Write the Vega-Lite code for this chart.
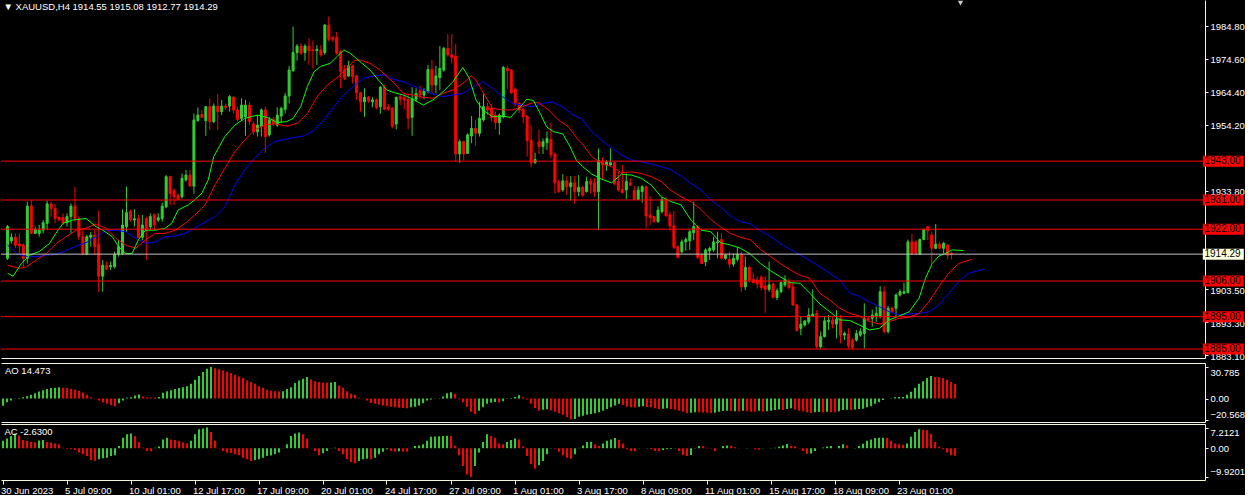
{
"$schema": "https://vega.github.io/schema/vega-lite/v6.json",
"background": "#000000",
"padding": 0,
"spacing": 2,
"config": {"view": {"stroke": null}, "font": "Liberation Sans", "axis": {"grid": false, "labelOverlap": false, "domainColor": "#F5F5DC", "tickColor": "#F5F5DC", "labelColor": "#FFFFFF", "labelFont": "Liberation Sans", "labelFontSize": 9.5}},
"datasets": {
"candles": [
{"i":0,"o":1913.0,"h":1923.3,"l":1912.5,"c":1922.8},{"i":1,"o":1918.4,"h":1920.7,"l":1917.6,"c":1919.5},{"i":2,"o":1919.5,"h":1920.7,"l":1916.1,"c":1917.1},{"i":3,"o":1917.4,"h":1920.7,"l":1914.5,"c":1916.9},{"i":4,"o":1917.1,"h":1917.6,"l":1910.4,"c":1913.0},{"i":5,"o":1913.0,"h":1930.5,"l":1911.4,"c":1929.1},{"i":6,"o":1929.1,"h":1931.0,"l":1920.5,"c":1920.7},{"i":7,"o":1920.7,"h":1922.8,"l":1920.5,"c":1921.9},{"i":8,"o":1920.7,"h":1923.3,"l":1919.7,"c":1921.7},{"i":9,"o":1921.7,"h":1924.8,"l":1920.7,"c":1924.0},
{"i":10,"o":1923.8,"h":1930.8,"l":1921.7,"c":1929.8},{"i":11,"o":1929.8,"h":1930.5,"l":1925.9,"c":1928.4},{"i":12,"o":1928.4,"h":1929.8,"l":1923.8,"c":1925.3},{"i":13,"o":1925.6,"h":1925.9,"l":1924.6,"c":1924.8},{"i":14,"o":1925.6,"h":1926.9,"l":1923.3,"c":1924.0},{"i":15,"o":1924.0,"h":1926.9,"l":1922.8,"c":1925.9},{"i":16,"o":1925.9,"h":1929.9,"l":1920.7,"c":1929.1},{"i":17,"o":1929.1,"h":1935.1,"l":1924.3,"c":1925.3},{"i":18,"o":1925.3,"h":1925.9,"l":1918.6,"c":1919.7},{"i":19,"o":1919.7,"h":1921.7,"l":1914.0,"c":1914.3},
{"i":20,"o":1914.3,"h":1920.2,"l":1914.0,"c":1919.7},{"i":21,"o":1919.5,"h":1921.2,"l":1916.6,"c":1920.2},{"i":22,"o":1920.2,"h":1921.7,"l":1914.0,"c":1916.6},{"i":23,"o":1917.4,"h":1927.7,"l":1902.7,"c":1907.5},{"i":24,"o":1907.5,"h":1912.5,"l":1902.7,"c":1910.9},{"i":25,"o":1910.9,"h":1912.0,"l":1909.4,"c":1909.6},{"i":26,"o":1910.4,"h":1912.0,"l":1909.4,"c":1910.8},{"i":27,"o":1910.4,"h":1915.0,"l":1909.9,"c":1914.3},{"i":28,"o":1914.3,"h":1918.6,"l":1913.5,"c":1916.6},{"i":29,"o":1914.5,"h":1928.1,"l":1914.0,"c":1923.3},
{"i":30,"o":1922.8,"h":1935.1,"l":1921.2,"c":1927.1},{"i":31,"o":1927.4,"h":1928.1,"l":1924.3,"c":1925.0},{"i":32,"o":1924.8,"h":1928.1,"l":1922.8,"c":1925.2},{"i":33,"o":1925.3,"h":1926.4,"l":1919.2,"c":1919.5},{"i":34,"o":1919.5,"h":1926.4,"l":1918.6,"c":1923.3},{"i":35,"o":1925.3,"h":1925.9,"l":1912.5,"c":1921.7},{"i":36,"o":1922.8,"h":1926.9,"l":1921.7,"c":1925.9},{"i":37,"o":1926.4,"h":1926.9,"l":1921.7,"c":1923.3},{"i":38,"o":1924.8,"h":1926.9,"l":1924.3,"c":1925.5},{"i":39,"o":1925.3,"h":1930.2,"l":1924.3,"c":1929.1},
{"i":40,"o":1928.9,"h":1938.7,"l":1928.4,"c":1938.2},{"i":41,"o":1938.2,"h":1938.4,"l":1929.4,"c":1933.0},{"i":42,"o":1933.9,"h":1934.6,"l":1929.4,"c":1932.0},{"i":43,"o":1932.5,"h":1933.0,"l":1931.0,"c":1931.2},{"i":44,"o":1932.0,"h":1939.2,"l":1931.5,"c":1937.7},{"i":45,"o":1937.2,"h":1940.3,"l":1936.7,"c":1938.7},{"i":46,"o":1938.7,"h":1940.3,"l":1935.1,"c":1935.3},{"i":47,"o":1935.3,"h":1957.7,"l":1933.0,"c":1955.7},{"i":48,"o":1955.5,"h":1959.6,"l":1955.2,"c":1957.2},{"i":49,"o":1957.4,"h":1958.7,"l":1956.2,"c":1956.5},
{"i":50,"o":1955.5,"h":1960.0,"l":1950.8,"c":1959.8},{"i":51,"o":1959.8,"h":1962.4,"l":1952.6,"c":1955.2},{"i":52,"o":1955.2,"h":1960.8,"l":1954.7,"c":1960.0},{"i":53,"o":1960.0,"h":1963.7,"l":1952.6,"c":1958.3},{"i":54,"o":1958.3,"h":1961.9,"l":1957.2,"c":1960.0},{"i":55,"o":1960.0,"h":1960.8,"l":1958.8,"c":1959.6},{"i":56,"o":1960.0,"h":1963.4,"l":1958.3,"c":1962.9},{"i":57,"o":1962.7,"h":1963.1,"l":1957.7,"c":1958.8},{"i":58,"o":1958.8,"h":1959.8,"l":1955.2,"c":1955.9},{"i":59,"o":1956.2,"h":1962.4,"l":1955.7,"c":1960.3},
{"i":60,"o":1956.7,"h":1961.9,"l":1950.8,"c":1960.3},{"i":61,"o":1960.3,"h":1961.3,"l":1954.1,"c":1955.2},{"i":62,"o":1954.5,"h":1955.2,"l":1951.1,"c":1952.1},{"i":63,"o":1952.1,"h":1957.2,"l":1950.6,"c":1954.1},{"i":64,"o":1953.8,"h":1959.3,"l":1950.6,"c":1958.8},{"i":65,"o":1958.8,"h":1959.8,"l":1945.6,"c":1950.6},{"i":66,"o":1951.1,"h":1956.7,"l":1950.6,"c":1955.7},{"i":67,"o":1955.9,"h":1956.7,"l":1953.8,"c":1954.5},{"i":68,"o":1954.1,"h":1959.6,"l":1953.6,"c":1957.2},{"i":69,"o":1956.9,"h":1959.8,"l":1954.9,"c":1959.3},
{"i":70,"o":1959.0,"h":1964.1,"l":1957.7,"c":1963.1},{"i":71,"o":1963.1,"h":1972.4,"l":1960.8,"c":1971.1},{"i":72,"o":1970.9,"h":1984.5,"l":1970.6,"c":1976.5},{"i":73,"o":1976.5,"h":1979.1,"l":1974.0,"c":1978.5},{"i":74,"o":1978.5,"h":1979.4,"l":1975.8,"c":1976.3},{"i":75,"o":1976.5,"h":1979.1,"l":1974.0,"c":1978.5},{"i":76,"o":1978.5,"h":1980.9,"l":1972.7,"c":1977.1},{"i":77,"o":1977.3,"h":1980.2,"l":1971.6,"c":1977.1},{"i":78,"o":1977.1,"h":1978.8,"l":1972.7,"c":1977.5},{"i":79,"o":1977.3,"h":1978.8,"l":1975.2,"c":1975.8},
{"i":80,"o":1976.5,"h":1985.3,"l":1975.8,"c":1985.0},{"i":81,"o":1985.0,"h":1987.6,"l":1979.9,"c":1980.6},{"i":82,"o":1981.2,"h":1981.4,"l":1979.9,"c":1980.6},{"i":83,"o":1981.2,"h":1982.9,"l":1975.8,"c":1976.3},{"i":84,"o":1976.8,"h":1977.3,"l":1965.5,"c":1970.6},{"i":85,"o":1971.3,"h":1972.7,"l":1968.0,"c":1968.5},{"i":86,"o":1969.3,"h":1974.0,"l":1968.9,"c":1972.4},{"i":87,"o":1972.4,"h":1972.7,"l":1967.0,"c":1969.1},{"i":88,"o":1969.3,"h":1969.6,"l":1961.9,"c":1964.1},{"i":89,"o":1964.1,"h":1964.4,"l":1958.3,"c":1961.3},
{"i":90,"o":1961.3,"h":1965.5,"l":1956.7,"c":1962.7},{"i":91,"o":1962.7,"h":1963.1,"l":1961.0,"c":1961.6},{"i":92,"o":1961.3,"h":1962.7,"l":1959.6,"c":1961.9},{"i":93,"o":1961.9,"h":1962.4,"l":1959.0,"c":1959.6},{"i":94,"o":1959.8,"h":1966.2,"l":1957.6,"c":1965.8},{"i":95,"o":1965.8,"h":1966.5,"l":1958.8,"c":1959.0},{"i":96,"o":1959.8,"h":1960.6,"l":1958.6,"c":1959.0},{"i":97,"o":1959.3,"h":1959.8,"l":1953.1,"c":1953.8},{"i":98,"o":1954.5,"h":1962.9,"l":1952.8,"c":1962.7},{"i":99,"o":1962.9,"h":1963.7,"l":1960.3,"c":1962.1},
{"i":100,"o":1962.7,"h":1963.9,"l":1959.0,"c":1961.9},{"i":101,"o":1962.1,"h":1963.7,"l":1952.8,"c":1956.2},{"i":102,"o":1956.5,"h":1965.8,"l":1950.8,"c":1962.1},{"i":103,"o":1962.1,"h":1965.5,"l":1961.3,"c":1963.9},{"i":104,"o":1964.7,"h":1966.2,"l":1962.1,"c":1963.4},{"i":105,"o":1963.4,"h":1965.5,"l":1962.1,"c":1964.7},{"i":106,"o":1964.4,"h":1972.7,"l":1963.9,"c":1971.3},{"i":107,"o":1971.3,"h":1974.2,"l":1963.9,"c":1966.5},{"i":108,"o":1966.5,"h":1972.4,"l":1963.9,"c":1969.3},{"i":109,"o":1968.8,"h":1978.5,"l":1964.9,"c":1971.6},
{"i":110,"o":1971.1,"h":1978.3,"l":1970.6,"c":1977.8},{"i":111,"o":1977.8,"h":1982.2,"l":1975.2,"c":1975.8},{"i":112,"o":1975.8,"h":1982.2,"l":1973.2,"c":1975.0},{"i":113,"o":1975.4,"h":1979.1,"l":1942.8,"c":1945.2},{"i":114,"o":1945.2,"h":1949.7,"l":1942.5,"c":1949.0},{"i":115,"o":1949.0,"h":1949.3,"l":1943.3,"c":1945.2},{"i":116,"o":1945.4,"h":1951.6,"l":1945.2,"c":1951.1},{"i":117,"o":1950.8,"h":1956.9,"l":1948.5,"c":1953.1},{"i":118,"o":1953.1,"h":1955.7,"l":1947.7,"c":1951.6},{"i":119,"o":1951.6,"h":1961.3,"l":1950.6,"c":1956.2},
{"i":120,"o":1955.7,"h":1963.7,"l":1955.2,"c":1959.8},{"i":121,"o":1959.8,"h":1961.0,"l":1957.2,"c":1958.8},{"i":122,"o":1959.3,"h":1960.6,"l":1955.2,"c":1956.5},{"i":123,"o":1957.2,"h":1958.3,"l":1952.8,"c":1954.9},{"i":124,"o":1954.9,"h":1957.7,"l":1951.1,"c":1957.2},{"i":125,"o":1956.7,"h":1972.4,"l":1956.2,"c":1971.9},{"i":126,"o":1971.6,"h":1972.4,"l":1965.2,"c":1970.9},{"i":127,"o":1971.1,"h":1971.3,"l":1963.7,"c":1964.1},{"i":128,"o":1965.2,"h":1965.8,"l":1960.0,"c":1960.6},{"i":129,"o":1960.8,"h":1961.3,"l":1957.9,"c":1958.8},
{"i":130,"o":1959.0,"h":1959.3,"l":1954.7,"c":1956.7},{"i":131,"o":1956.9,"h":1957.2,"l":1944.4,"c":1949.3},{"i":132,"o":1949.5,"h":1954.1,"l":1941.1,"c":1942.5},{"i":133,"o":1942.5,"h":1945.6,"l":1942.3,"c":1943.5},{"i":134,"o":1949.0,"h":1952.8,"l":1945.2,"c":1947.5},{"i":135,"o":1947.5,"h":1950.0,"l":1945.2,"c":1949.0},{"i":136,"o":1948.7,"h":1952.1,"l":1946.4,"c":1950.0},{"i":137,"o":1949.7,"h":1954.9,"l":1943.8,"c":1944.9},{"i":138,"o":1945.2,"h":1945.6,"l":1933.0,"c":1936.3},{"i":139,"o":1936.6,"h":1937.2,"l":1933.2,"c":1933.6},
{"i":140,"o":1934.1,"h":1939.0,"l":1933.6,"c":1936.9},{"i":141,"o":1936.9,"h":1938.4,"l":1932.5,"c":1935.1},{"i":142,"o":1935.1,"h":1938.4,"l":1930.8,"c":1936.3},{"i":143,"o":1936.3,"h":1938.4,"l":1929.8,"c":1933.6},{"i":144,"o":1933.6,"h":1938.7,"l":1932.2,"c":1934.9},{"i":145,"o":1934.9,"h":1935.3,"l":1932.0,"c":1932.5},{"i":146,"o":1933.6,"h":1938.2,"l":1933.3,"c":1936.7},{"i":147,"o":1936.7,"h":1937.7,"l":1933.0,"c":1935.9},{"i":148,"o":1936.3,"h":1937.7,"l":1932.0,"c":1933.6},{"i":149,"o":1933.6,"h":1946.9,"l":1921.7,"c":1943.3},
{"i":150,"o":1943.1,"h":1944.2,"l":1937.2,"c":1941.8},{"i":151,"o":1941.8,"h":1943.3,"l":1940.0,"c":1942.8},{"i":152,"o":1941.8,"h":1946.9,"l":1941.3,"c":1942.5},{"i":153,"o":1942.5,"h":1942.8,"l":1935.6,"c":1936.1},{"i":154,"o":1936.7,"h":1939.7,"l":1933.6,"c":1934.1},{"i":155,"o":1934.3,"h":1941.8,"l":1933.0,"c":1933.3},{"i":156,"o":1934.1,"h":1939.2,"l":1931.2,"c":1936.7},{"i":157,"o":1936.3,"h":1937.7,"l":1935.3,"c":1935.6},{"i":158,"o":1933.9,"h":1935.3,"l":1931.0,"c":1931.2},{"i":159,"o":1931.2,"h":1935.3,"l":1931.0,"c":1934.1},
{"i":160,"o":1933.6,"h":1935.6,"l":1930.2,"c":1935.1},{"i":161,"o":1935.1,"h":1935.3,"l":1922.5,"c":1926.1},{"i":162,"o":1926.4,"h":1932.2,"l":1923.3,"c":1925.6},{"i":163,"o":1925.9,"h":1926.1,"l":1924.0,"c":1924.3},{"i":164,"o":1924.3,"h":1929.1,"l":1924.0,"c":1927.9},{"i":165,"o":1927.4,"h":1932.0,"l":1926.9,"c":1931.2},{"i":166,"o":1931.2,"h":1932.0,"l":1925.9,"c":1926.1},{"i":167,"o":1926.4,"h":1927.4,"l":1921.5,"c":1923.0},{"i":168,"o":1923.0,"h":1927.7,"l":1915.8,"c":1916.4},{"i":169,"o":1916.6,"h":1917.1,"l":1913.0,"c":1913.3},
{"i":170,"o":1915.0,"h":1918.8,"l":1914.5,"c":1918.1},{"i":171,"o":1918.1,"h":1919.5,"l":1915.3,"c":1918.8},{"i":172,"o":1918.4,"h":1921.9,"l":1915.6,"c":1921.2},{"i":173,"o":1920.9,"h":1930.5,"l":1918.6,"c":1922.8},{"i":174,"o":1922.8,"h":1923.3,"l":1912.7,"c":1913.3},{"i":175,"o":1914.0,"h":1914.5,"l":1911.2,"c":1911.4},{"i":176,"o":1911.9,"h":1916.1,"l":1910.6,"c":1915.6},{"i":177,"o":1915.3,"h":1916.6,"l":1912.5,"c":1916.1},{"i":178,"o":1915.6,"h":1919.7,"l":1915.0,"c":1918.1},{"i":179,"o":1917.8,"h":1921.2,"l":1913.0,"c":1918.1},
{"i":180,"o":1918.8,"h":1920.7,"l":1912.7,"c":1913.0},{"i":181,"o":1913.0,"h":1914.5,"l":1912.5,"c":1914.0},{"i":182,"o":1912.7,"h":1915.0,"l":1909.9,"c":1911.2},{"i":183,"o":1911.2,"h":1914.5,"l":1910.4,"c":1913.0},{"i":184,"o":1912.7,"h":1916.6,"l":1912.0,"c":1914.3},{"i":185,"o":1914.3,"h":1915.0,"l":1902.7,"c":1904.2},{"i":186,"o":1904.2,"h":1913.5,"l":1903.2,"c":1910.2},{"i":187,"o":1910.2,"h":1910.6,"l":1905.5,"c":1906.3},{"i":188,"o":1906.5,"h":1908.6,"l":1905.3,"c":1905.5},{"i":189,"o":1906.3,"h":1907.5,"l":1903.7,"c":1905.1},
{"i":190,"o":1907.2,"h":1907.8,"l":1903.0,"c":1904.0},{"i":191,"o":1904.5,"h":1907.5,"l":1896.2,"c":1903.4},{"i":192,"o":1903.4,"h":1912.0,"l":1902.7,"c":1904.8},{"i":193,"o":1905.1,"h":1905.5,"l":1900.6,"c":1900.9},{"i":194,"o":1900.9,"h":1903.7,"l":1900.1,"c":1903.0},{"i":195,"o":1902.7,"h":1905.8,"l":1902.2,"c":1905.5},{"i":196,"o":1904.8,"h":1907.8,"l":1904.2,"c":1906.5},{"i":197,"o":1905.8,"h":1906.8,"l":1903.4,"c":1904.0},{"i":198,"o":1904.2,"h":1905.5,"l":1898.3,"c":1898.6},{"i":199,"o":1898.6,"h":1898.9,"l":1890.4,"c":1890.7},
{"i":200,"o":1891.4,"h":1895.2,"l":1889.3,"c":1892.7},{"i":201,"o":1892.4,"h":1893.9,"l":1891.9,"c":1893.7},{"i":202,"o":1893.4,"h":1897.6,"l":1892.7,"c":1895.5},{"i":203,"o":1895.2,"h":1903.4,"l":1895.0,"c":1895.8},{"i":204,"o":1896.0,"h":1897.0,"l":1885.2,"c":1885.7},{"i":205,"o":1885.7,"h":1890.4,"l":1885.2,"c":1888.8},{"i":206,"o":1888.8,"h":1895.2,"l":1888.6,"c":1893.7},{"i":207,"o":1893.4,"h":1895.5,"l":1890.9,"c":1893.9},{"i":208,"o":1893.9,"h":1894.8,"l":1891.4,"c":1892.7},{"i":209,"o":1892.7,"h":1897.0,"l":1888.3,"c":1894.2},
{"i":210,"o":1894.5,"h":1895.5,"l":1886.8,"c":1889.3},{"i":211,"o":1889.3,"h":1890.4,"l":1887.8,"c":1889.8},{"i":212,"o":1889.6,"h":1891.4,"l":1885.2,"c":1886.0},{"i":213,"o":1887.8,"h":1888.3,"l":1884.9,"c":1885.5},{"i":214,"o":1887.8,"h":1890.9,"l":1887.3,"c":1889.8},{"i":215,"o":1889.3,"h":1891.4,"l":1888.8,"c":1890.4},{"i":216,"o":1889.8,"h":1899.1,"l":1885.2,"c":1894.5},{"i":217,"o":1894.5,"h":1895.0,"l":1893.4,"c":1894.0},{"i":218,"o":1894.5,"h":1897.2,"l":1891.9,"c":1895.5},{"i":219,"o":1895.0,"h":1898.1,"l":1893.4,"c":1896.0},
{"i":220,"o":1895.0,"h":1904.4,"l":1894.5,"c":1902.7},{"i":221,"o":1902.7,"h":1904.4,"l":1889.8,"c":1890.4},{"i":222,"o":1890.4,"h":1898.3,"l":1889.8,"c":1897.6},{"i":223,"o":1897.6,"h":1898.1,"l":1896.0,"c":1896.5},{"i":224,"o":1897.6,"h":1902.2,"l":1895.2,"c":1901.7},{"i":225,"o":1901.7,"h":1903.4,"l":1901.2,"c":1902.7},{"i":226,"o":1902.2,"h":1905.5,"l":1902.0,"c":1902.7},{"i":227,"o":1902.4,"h":1918.8,"l":1902.2,"c":1918.1},{"i":228,"o":1918.1,"h":1920.5,"l":1914.0,"c":1914.5},{"i":229,"o":1918.1,"h":1918.6,"l":1914.3,"c":1914.5},
{"i":230,"o":1914.3,"h":1919.1,"l":1914.0,"c":1918.8},{"i":231,"o":1918.8,"h":1922.2,"l":1918.6,"c":1921.9},{"i":232,"o":1922.8,"h":1923.0,"l":1918.6,"c":1921.5},{"i":233,"o":1920.2,"h":1921.2,"l":1911.4,"c":1916.1},{"i":234,"o":1916.1,"h":1923.6,"l":1915.8,"c":1917.4},{"i":235,"o":1917.4,"h":1918.1,"l":1915.8,"c":1916.1},{"i":236,"o":1916.1,"h":1918.1,"l":1914.5,"c":1917.6},{"i":237,"o":1917.1,"h":1917.4,"l":1912.7,"c":1914.0},{"i":238,"o":1914.55,"h":1915.08,"l":1912.77,"c":1914.29}
],
"lips": [
{"i":0,"v":1908.4},{"i":1.4,"v":1907.5},{"i":3.5,"v":1911.4},{"i":5.6,"v":1914.0},{"i":8,"v":1915.1},{"i":10.6,"v":1917.6},{"i":12.2,"v":1920.7},{"i":14,"v":1923.8},{"i":16.4,"v":1924.8},{"i":19.8,"v":1925.3},{"i":22.3,"v":1922.8},{"i":24,"v":1921.7},{"i":26.4,"v":1919.7},{"i":28,"v":1916.6},{"i":29.8,"v":1914.5},{"i":31.4,"v":1914.5},{"i":33,"v":1918.7},{"i":34.8,"v":1921.7},{"i":37.3,"v":1921.7},{"i":39.8,"v":1922.3},{"i":41.4,"v":1923.8},{"i":43,"v":1927.9},{"i":45.6,"v":1929.5},{"i":47.3,"v":1931.2},{"i":49,"v":1933.1},{"i":50.6,"v":1937.2},{"i":52,"v":1944.4},{"i":54.8,"v":1950.6},{"i":57.3,"v":1954.1},{"i":59.8,"v":1956.2},{"i":63,"v":1957.2},{"i":65.5,"v":1956.5},{"i":68,"v":1954.9},{"i":70.4,"v":1955.2},{"i":72,"v":1956.2},{"i":73.9,"v":1959.8},{"i":75.6,"v":1966.0},{"i":77.3,"v":1970.6},{"i":78.9,"v":1972.2},{"i":81.4,"v":1973.2},{"i":83,"v":1975.2},{"i":84.8,"v":1977.3},{"i":86.4,"v":1976.3},{"i":88.9,"v":1973.7},{"i":91.4,"v":1971.1},{"i":93.9,"v":1967.5},{"i":95.6,"v":1965.0},{"i":97.3,"v":1964.2},{"i":99.8,"v":1963.4},{"i":102.3,"v":1962.1},{"i":104.8,"v":1960.3},{"i":107.3,"v":1961.9},{"i":109.8,"v":1964.4},{"i":112.3,"v":1967.5},{"i":114.8,"v":1971.9},{"i":116.4,"v":1968.6},{"i":118.1,"v":1961.9},{"i":119.8,"v":1958.8},{"i":122.3,"v":1956.7},{"i":124.8,"v":1956.9},{"i":126.8,"v":1956.5},{"i":129.3,"v":1959.8},{"i":130.9,"v":1962.1},{"i":132.6,"v":1961.7},{"i":134.3,"v":1957.7},{"i":135.9,"v":1953.6},{"i":137.6,"v":1952.1},{"i":140,"v":1951.4},{"i":141.8,"v":1947.5},{"i":143.4,"v":1943.3},{"i":145,"v":1941.3},{"i":147.3,"v":1939.0},{"i":149.8,"v":1937.4},{"i":152.3,"v":1936.3},{"i":154.8,"v":1939.0},{"i":157.3,"v":1938.7},{"i":159.8,"v":1937.7},{"i":162.3,"v":1935.6},{"i":164.8,"v":1932.0},{"i":167.3,"v":1930.5},{"i":169.8,"v":1929.5},{"i":172.3,"v":1924.8},{"i":174.8,"v":1921.7},{"i":177.3,"v":1921.2},{"i":179.8,"v":1917.8},{"i":182.3,"v":1917.1},{"i":184.8,"v":1916.1},{"i":187.3,"v":1914.3},{"i":189.8,"v":1911.4},{"i":192.3,"v":1909.2},{"i":194.8,"v":1907.3},{"i":197.3,"v":1905.5},{"i":199.8,"v":1905.3},{"i":202.3,"v":1902.2},{"i":204.8,"v":1898.9},{"i":207.3,"v":1896.5},{"i":209.8,"v":1894.0},{"i":212.3,"v":1893.8},{"i":214.8,"v":1892.4},{"i":217.3,"v":1890.9},{"i":219.8,"v":1891.4},{"i":222.3,"v":1894.0},{"i":224.8,"v":1895.2},{"i":227.3,"v":1896.5},{"i":229.8,"v":1900.7},{"i":231.4,"v":1906.8},{"i":233.1,"v":1911.4},{"i":234.8,"v":1913.7},{"i":236.4,"v":1914.5},{"i":238.1,"v":1915.6},{"i":241,"v":1915.4}
],
"teeth": [
{"i":0,"v":1910.9},{"i":1.4,"v":1910.4},{"i":3,"v":1909.9},{"i":4.8,"v":1910.4},{"i":7.3,"v":1912.5},{"i":9.8,"v":1914.5},{"i":12.3,"v":1917.6},{"i":14.8,"v":1919.7},{"i":17.3,"v":1921.7},{"i":19.8,"v":1922.3},{"i":22.3,"v":1923.6},{"i":24.8,"v":1922.3},{"i":27.3,"v":1919.2},{"i":29.8,"v":1917.1},{"i":32.3,"v":1916.1},{"i":34.8,"v":1918.7},{"i":37.3,"v":1920.7},{"i":39.8,"v":1920.7},{"i":42.3,"v":1921.7},{"i":44.8,"v":1923.8},{"i":47.3,"v":1926.4},{"i":49.8,"v":1929.5},{"i":52.3,"v":1935.6},{"i":54.8,"v":1940.8},{"i":57.3,"v":1945.9},{"i":59.8,"v":1949.5},{"i":62.3,"v":1952.6},{"i":64.8,"v":1954.1},{"i":67.3,"v":1954.5},{"i":70.6,"v":1953.8},{"i":73.1,"v":1954.7},{"i":75.6,"v":1957.7},{"i":78.1,"v":1962.9},{"i":80.6,"v":1966.5},{"i":83.1,"v":1968.8},{"i":85.6,"v":1971.6},{"i":87.3,"v":1974.0},{"i":88.9,"v":1974.2},{"i":91.4,"v":1973.2},{"i":93.9,"v":1971.1},{"i":97.3,"v":1967.3},{"i":99.8,"v":1963.9},{"i":102.3,"v":1963.4},{"i":104.8,"v":1962.7},{"i":107.3,"v":1962.4},{"i":109.8,"v":1963.9},{"i":112.3,"v":1965.0},{"i":114.8,"v":1967.0},{"i":116.9,"v":1969.3},{"i":118.1,"v":1968.0},{"i":119.8,"v":1964.4},{"i":122.3,"v":1959.3},{"i":124.8,"v":1958.8},{"i":127.3,"v":1958.8},{"i":129.8,"v":1959.8},{"i":132.3,"v":1961.0},{"i":133.9,"v":1961.0},{"i":136.4,"v":1958.8},{"i":138.9,"v":1955.7},{"i":141.4,"v":1953.6},{"i":143.9,"v":1949.5},{"i":144.8,"v":1948.5},{"i":147.3,"v":1944.4},{"i":149.8,"v":1942.3},{"i":152.3,"v":1941.3},{"i":154.8,"v":1939.4},{"i":157.3,"v":1939.7},{"i":159.8,"v":1939.2},{"i":162.3,"v":1938.2},{"i":164.8,"v":1936.7},{"i":167.3,"v":1933.9},{"i":169.8,"v":1932.0},{"i":172.3,"v":1930.5},{"i":174.8,"v":1928.1},{"i":177.3,"v":1925.0},{"i":179.8,"v":1922.6},{"i":182.3,"v":1920.7},{"i":184.8,"v":1919.5},{"i":187.3,"v":1918.7},{"i":189.8,"v":1915.8},{"i":192.3,"v":1913.6},{"i":194.8,"v":1911.4},{"i":197.3,"v":1909.4},{"i":199.8,"v":1907.8},{"i":202.3,"v":1906.8},{"i":204.8,"v":1902.2},{"i":207.3,"v":1900.1},{"i":209.8,"v":1897.6},{"i":212.3,"v":1896.0},{"i":214.8,"v":1895.2},{"i":217.3,"v":1893.5},{"i":219.8,"v":1892.7},{"i":222.3,"v":1893.5},{"i":224.8,"v":1894.5},{"i":227.3,"v":1894.8},{"i":229.8,"v":1896.0},{"i":232.3,"v":1899.6},{"i":234.8,"v":1904.3},{"i":237.3,"v":1908.4},{"i":239.8,"v":1911.4},{"i":243,"v":1912.7}
],
"jaw": [
{"i":0,"v":1917.1},{"i":2.3,"v":1914.5},{"i":4.8,"v":1913.5},{"i":7.3,"v":1913.5},{"i":9.8,"v":1914.0},{"i":12.3,"v":1914.3},{"i":14.8,"v":1915.4},{"i":17.3,"v":1916.8},{"i":19.8,"v":1917.8},{"i":22.3,"v":1919.7},{"i":24.8,"v":1921.5},{"i":27.3,"v":1921.7},{"i":29.8,"v":1921.2},{"i":32.3,"v":1919.2},{"i":34.8,"v":1917.6},{"i":37.3,"v":1918.1},{"i":39.8,"v":1919.7},{"i":42.3,"v":1919.9},{"i":44.8,"v":1920.7},{"i":47.3,"v":1922.4},{"i":49.8,"v":1924.2},{"i":52.3,"v":1925.9},{"i":54.8,"v":1928.9},{"i":57.3,"v":1935.6},{"i":59.8,"v":1940.3},{"i":62.3,"v":1943.9},{"i":64.8,"v":1946.9},{"i":67.3,"v":1949.0},{"i":69.8,"v":1949.7},{"i":72.3,"v":1950.3},{"i":74.8,"v":1950.8},{"i":77.3,"v":1952.6},{"i":79.8,"v":1955.7},{"i":82.3,"v":1959.8},{"i":84.8,"v":1963.4},{"i":87.3,"v":1966.2},{"i":89.8,"v":1968.6},{"i":92.3,"v":1969.3},{"i":94.8,"v":1969.6},{"i":97.3,"v":1968.3},{"i":99.8,"v":1967.5},{"i":102.3,"v":1966.2},{"i":104.8,"v":1965.0},{"i":107.3,"v":1963.7},{"i":109.8,"v":1962.9},{"i":112.3,"v":1963.4},{"i":114.8,"v":1963.9},{"i":117.3,"v":1965.8},{"i":119.8,"v":1967.5},{"i":122.3,"v":1965.5},{"i":124.8,"v":1962.9},{"i":127.3,"v":1960.8},{"i":129.8,"v":1960.3},{"i":132.3,"v":1959.8},{"i":134.8,"v":1960.8},{"i":137.3,"v":1961.3},{"i":139.8,"v":1959.8},{"i":142.3,"v":1957.5},{"i":144.8,"v":1955.9},{"i":147.3,"v":1952.1},{"i":149.8,"v":1949.5},{"i":152.3,"v":1946.9},{"i":154.8,"v":1944.9},{"i":157.3,"v":1943.3},{"i":159.8,"v":1942.8},{"i":162.3,"v":1942.1},{"i":164.8,"v":1941.3},{"i":167.3,"v":1940.3},{"i":169.8,"v":1938.4},{"i":172.3,"v":1936.1},{"i":174.8,"v":1934.1},{"i":177.3,"v":1931.0},{"i":179.8,"v":1928.7},{"i":182.3,"v":1926.1},{"i":184.8,"v":1924.3},{"i":187.3,"v":1923.6},{"i":189.8,"v":1921.5},{"i":192.3,"v":1919.8},{"i":194.8,"v":1917.6},{"i":197.3,"v":1915.8},{"i":199.8,"v":1914.0},{"i":202.3,"v":1912.3},{"i":204.8,"v":1910.4},{"i":207.3,"v":1908.4},{"i":209.8,"v":1906.3},{"i":212.3,"v":1902.4},{"i":214.8,"v":1901.2},{"i":217.3,"v":1899.6},{"i":219.8,"v":1898.1},{"i":222.3,"v":1896.5},{"i":224.8,"v":1895.5},{"i":227.3,"v":1895.8},{"i":229.8,"v":1896.0},{"i":232.3,"v":1896.5},{"i":234.8,"v":1898.6},{"i":237.3,"v":1902.2},{"i":239.8,"v":1905.8},{"i":242.3,"v":1908.4},{"i":246,"v":1909.6}
],
"levels": [
{"p":1943,"k":"level"},{"p":1931,"k":"level"},{"p":1922,"k":"level"},{"p":1906,"k":"level"},{"p":1895,"k":"level"},{"p":1885,"k":"level"},{"p":1914.29,"k":"bid"}
],
"ao": [
{"i":0,"v":-7.0},{"i":1,"v":-3.5},{"i":2,"v":-2.0},{"i":3,"v":-0.3},{"i":4,"v":0.5},{"i":5,"v":1.3},{"i":6,"v":2.3},{"i":7,"v":3.6},{"i":8,"v":5.2},{"i":9,"v":6.9},
{"i":10,"v":8.2},{"i":11,"v":9.2},{"i":12,"v":10.2},{"i":13,"v":10.5},{"i":14,"v":11.1},{"i":15,"v":10.5},{"i":16,"v":10.2},{"i":17,"v":9.5},{"i":18,"v":8.9},{"i":19,"v":7.5},
{"i":20,"v":5.9},{"i":21,"v":3.6},{"i":22,"v":1.3},{"i":23,"v":-0.2},{"i":24,"v":-2.0},{"i":25,"v":-3.6},{"i":26,"v":-5.2},{"i":27,"v":-6.2},{"i":28,"v":-7.5},{"i":29,"v":-4.6},
{"i":30,"v":-2.0},{"i":31,"v":0.7},{"i":32,"v":1.3},{"i":33,"v":3.0},{"i":34,"v":3.9},{"i":35,"v":2.0},{"i":36,"v":1.3},{"i":37,"v":1.0},{"i":38,"v":0.9},{"i":39,"v":1.6},
{"i":40,"v":5.6},{"i":41,"v":7.2},{"i":42,"v":8.2},{"i":43,"v":9.2},{"i":44,"v":10.2},{"i":45,"v":11.1},{"i":46,"v":12.1},{"i":47,"v":14.4},{"i":48,"v":18.4},{"i":49,"v":22.0},
{"i":50,"v":25.9},{"i":51,"v":29.2},{"i":52,"v":30.785},{"i":53,"v":29.5},{"i":54,"v":28.5},{"i":55,"v":27.5},{"i":56,"v":26.2},{"i":57,"v":24.9},{"i":58,"v":23.3},{"i":59,"v":21.6},
{"i":60,"v":20.0},{"i":61,"v":17.7},{"i":62,"v":16.1},{"i":63,"v":14.4},{"i":64,"v":12.1},{"i":65,"v":10.5},{"i":66,"v":8.5},{"i":67,"v":7.9},{"i":68,"v":7.2},{"i":69,"v":6.9},
{"i":70,"v":7.2},{"i":71,"v":9.2},{"i":72,"v":11.1},{"i":73,"v":15.1},{"i":74,"v":17.7},{"i":75,"v":19.3},{"i":76,"v":21.0},{"i":77,"v":18.7},{"i":78,"v":17.0},{"i":79,"v":16.1},
{"i":80,"v":15.7},{"i":81,"v":15.4},{"i":82,"v":15.7},{"i":83,"v":16.1},{"i":84,"v":12.8},{"i":85,"v":10.5},{"i":86,"v":7.2},{"i":87,"v":4.6},{"i":88,"v":3.6},{"i":89,"v":0.7},
{"i":90,"v":-0.2},{"i":91,"v":-2.0},{"i":92,"v":-4.3},{"i":93,"v":-5.2},{"i":94,"v":-5.9},{"i":95,"v":-6.9},{"i":96,"v":-7.2},{"i":97,"v":-7.9},{"i":98,"v":-8.5},{"i":99,"v":-8.9},
{"i":100,"v":-9.2},{"i":101,"v":-9.5},{"i":102,"v":-8.5},{"i":103,"v":-7.9},{"i":104,"v":-6.9},{"i":105,"v":-4.6},{"i":106,"v":-2.0},{"i":107,"v":-1.0},{"i":108,"v":-0.3},{"i":109,"v":0.3},
{"i":110,"v":2.0},{"i":111,"v":5.2},{"i":112,"v":6.2},{"i":113,"v":4.6},{"i":114,"v":-0.7},{"i":115,"v":-3.6},{"i":116,"v":-7.9},{"i":117,"v":-12.8},{"i":118,"v":-15.1},{"i":119,"v":-11.8},
{"i":120,"v":-8.5},{"i":121,"v":-5.2},{"i":122,"v":-3.9},{"i":123,"v":-3.4},{"i":124,"v":-3.9},{"i":125,"v":-2.6},{"i":126,"v":0.3},{"i":127,"v":0.5},{"i":128,"v":1.6},{"i":129,"v":3.3},
{"i":130,"v":1.3},{"i":131,"v":-1.0},{"i":132,"v":-5.2},{"i":133,"v":-9.2},{"i":134,"v":-11.8},{"i":135,"v":-11.0},{"i":136,"v":-10.5},{"i":137,"v":-11.5},{"i":138,"v":-12.8},{"i":139,"v":-14.4},
{"i":140,"v":-15.7},{"i":141,"v":-18.0},{"i":142,"v":-20.568},{"i":143,"v":-20.0},{"i":144,"v":-17.7},{"i":145,"v":-16.7},{"i":146,"v":-15.7},{"i":147,"v":-15.1},{"i":148,"v":-14.4},{"i":149,"v":-13.4},
{"i":150,"v":-11.8},{"i":151,"v":-10.2},{"i":152,"v":-8.5},{"i":153,"v":-6.9},{"i":154,"v":-5.2},{"i":155,"v":-6.2},{"i":156,"v":-7.9},{"i":157,"v":-8.5},{"i":158,"v":-8.7},{"i":159,"v":-7.9},
{"i":160,"v":-7.6},{"i":161,"v":-8.2},{"i":162,"v":-8.5},{"i":163,"v":-9.5},{"i":164,"v":-10.5},{"i":165,"v":-10.0},{"i":166,"v":-9.5},{"i":167,"v":-10.2},{"i":168,"v":-11.0},{"i":169,"v":-12.0},
{"i":170,"v":-13.0},{"i":171,"v":-14.0},{"i":172,"v":-13.8},{"i":173,"v":-13.4},{"i":174,"v":-13.5},{"i":175,"v":-13.6},{"i":176,"v":-13.7},{"i":177,"v":-14.0},{"i":178,"v":-13.9},{"i":179,"v":-13.0},
{"i":180,"v":-12.2},{"i":181,"v":-12.0},{"i":182,"v":-12.5},{"i":183,"v":-12.3},{"i":184,"v":-12.6},{"i":185,"v":-12.0},{"i":186,"v":-12.5},{"i":187,"v":-12.9},{"i":188,"v":-13.0},{"i":189,"v":-12.0},
{"i":190,"v":-12.8},{"i":191,"v":-12.5},{"i":192,"v":-11.9},{"i":193,"v":-11.2},{"i":194,"v":-10.8},{"i":195,"v":-11.2},{"i":196,"v":-10.2},{"i":197,"v":-9.5},{"i":198,"v":-10.8},{"i":199,"v":-11.8},
{"i":200,"v":-12.5},{"i":201,"v":-13.4},{"i":202,"v":-14.1},{"i":203,"v":-13.4},{"i":204,"v":-13.1},{"i":205,"v":-13.7},{"i":206,"v":-12.8},{"i":207,"v":-13.4},{"i":208,"v":-13.5},{"i":209,"v":-12.5},
{"i":210,"v":-11.2},{"i":211,"v":-11.0},{"i":212,"v":-11.3},{"i":213,"v":-10.8},{"i":214,"v":-10.2},{"i":215,"v":-10.0},{"i":216,"v":-8.5},{"i":217,"v":-7.5},{"i":218,"v":-5.2},{"i":219,"v":-3.6},
{"i":220,"v":-1.3},{"i":221,"v":0.1},{"i":222,"v":0.3},{"i":223,"v":1.3},{"i":224,"v":1.4},{"i":225,"v":1.6},{"i":226,"v":3.6},{"i":227,"v":6.6},{"i":228,"v":10.5},{"i":229,"v":14.4},
{"i":230,"v":17.0},{"i":231,"v":20.0},{"i":232,"v":22.0},{"i":233,"v":21.0},{"i":234,"v":20.7},{"i":235,"v":20.0},{"i":236,"v":18.4},{"i":237,"v":16.1},{"i":238,"v":14.473}
],
"ac": [
{"i":0,"v":2.6},{"i":1,"v":3.4},{"i":2,"v":4.3},{"i":3,"v":5.2},{"i":4,"v":4.5},{"i":5,"v":2.9},{"i":6,"v":2.6},{"i":7,"v":2.2},{"i":8,"v":2.1},{"i":9,"v":2.7},
{"i":10,"v":2.9},{"i":11,"v":2.2},{"i":12,"v":2.0},{"i":13,"v":1.7},{"i":14,"v":1.4},{"i":15,"v":0.2},{"i":16,"v":-0.2},{"i":17,"v":-0.35},{"i":18,"v":-0.6},{"i":19,"v":-1.5},
{"i":20,"v":-2.1},{"i":21,"v":-2.7},{"i":22,"v":-4.1},{"i":23,"v":-4.3},{"i":24,"v":-3.8},{"i":25,"v":-3.5},{"i":26,"v":-3.3},{"i":27,"v":-2.7},{"i":28,"v":-2.4},{"i":29,"v":0.8},
{"i":30,"v":3.7},{"i":31,"v":4.9},{"i":32,"v":5.2},{"i":33,"v":4.3},{"i":34,"v":2.2},{"i":35,"v":0.2},{"i":36,"v":-0.9},{"i":37,"v":-1.0},{"i":38,"v":0.2},{"i":39,"v":0.6},
{"i":40,"v":3.1},{"i":41,"v":3.7},{"i":42,"v":3.1},{"i":43,"v":2.9},{"i":44,"v":2.6},{"i":45,"v":2.0},{"i":46,"v":1.7},{"i":47,"v":2.6},{"i":48,"v":4.9},{"i":49,"v":6.6},
{"i":50,"v":6.9},{"i":51,"v":7.2121},{"i":52,"v":5.7},{"i":53,"v":2.6},{"i":54,"v":0.1},{"i":55,"v":-0.9},{"i":56,"v":-1.5},{"i":57,"v":-1.6},{"i":58,"v":-2.1},{"i":59,"v":-2.4},
{"i":60,"v":-3.3},{"i":61,"v":-3.8},{"i":62,"v":-4.4},{"i":63,"v":-4.1},{"i":64,"v":-3.8},{"i":65,"v":-3.3},{"i":66,"v":-2.7},{"i":67,"v":-2.5},{"i":68,"v":-2.1},{"i":69,"v":-1.5},
{"i":70,"v":-0.1},{"i":71,"v":1.4},{"i":72,"v":4.3},{"i":73,"v":5.2},{"i":74,"v":5.5},{"i":75,"v":4.9},{"i":76,"v":3.4},{"i":77,"v":-0.1},{"i":78,"v":-0.9},{"i":79,"v":-2.4},
{"i":80,"v":-1.7},{"i":81,"v":-0.9},{"i":82,"v":0.1},{"i":83,"v":0.2},{"i":84,"v":-0.9},{"i":85,"v":-2.1},{"i":86,"v":-3.8},{"i":87,"v":-4.8},{"i":88,"v":-5.2},{"i":89,"v":-4.4},
{"i":90,"v":-3.8},{"i":91,"v":-3.6},{"i":92,"v":-3.8},{"i":93,"v":-3.3},{"i":94,"v":-2.1},{"i":95,"v":-1.2},{"i":96,"v":-0.35},{"i":97,"v":-0.9},{"i":98,"v":-1.2},{"i":99,"v":-1.0},
{"i":100,"v":-1.1},{"i":101,"v":-1.2},{"i":102,"v":0.1},{"i":103,"v":0.8},{"i":104,"v":1.0},{"i":105,"v":1.4},{"i":106,"v":2.6},{"i":107,"v":4.0},{"i":108,"v":4.1},{"i":109,"v":4.2},
{"i":110,"v":4.3},{"i":111,"v":4.4},{"i":112,"v":4.3},{"i":113,"v":1.0},{"i":114,"v":-2.4},{"i":115,"v":-6.2},{"i":116,"v":-9.1},{"i":117,"v":-9.9201},{"i":118,"v":-6.2},{"i":119,"v":-1.5},
{"i":120,"v":2.2},{"i":121,"v":4.9},{"i":122,"v":4.3},{"i":123,"v":3.7},{"i":124,"v":1.7},{"i":125,"v":1.4},{"i":126,"v":2.2},{"i":127,"v":2.9},{"i":128,"v":3.4},{"i":129,"v":3.1},
{"i":130,"v":0.6},{"i":131,"v":-2.7},{"i":132,"v":-5.6},{"i":133,"v":-7.1},{"i":134,"v":-5.9},{"i":135,"v":-4.4},{"i":136,"v":-2.1},{"i":137,"v":0.1},{"i":138,"v":-0.2},{"i":139,"v":-1.2},
{"i":140,"v":-2.4},{"i":141,"v":-3.3},{"i":142,"v":-3.6},{"i":143,"v":-2.1},{"i":144,"v":-0.1},{"i":145,"v":1.0},{"i":146,"v":2.2},{"i":147,"v":2.3},{"i":148,"v":1.4},{"i":149,"v":0.8},
{"i":150,"v":1.7},{"i":151,"v":2.6},{"i":152,"v":3.1},{"i":153,"v":3.6},{"i":154,"v":2.9},{"i":155,"v":1.7},{"i":156,"v":-0.3},{"i":157,"v":-0.9},{"i":158,"v":-1.0},{"i":159,"v":-0.1},
{"i":160,"v":0.05},{"i":161,"v":0.1},{"i":162,"v":-0.3},{"i":163,"v":-0.9},{"i":164,"v":-1.0},{"i":165,"v":-0.6},{"i":166,"v":-0.3},{"i":167,"v":-0.25},{"i":168,"v":-0.1},{"i":169,"v":-0.9},
{"i":170,"v":-2.3},{"i":171,"v":-2.7},{"i":172,"v":-2.3},{"i":173,"v":0.1},{"i":174,"v":0.8},{"i":175,"v":0.7},{"i":176,"v":0.2},{"i":177,"v":-0.1},{"i":178,"v":-0.9},{"i":179,"v":0.05},
{"i":180,"v":0.8},{"i":181,"v":1.0},{"i":182,"v":0.9},{"i":183,"v":0.35},{"i":184,"v":0.1},{"i":185,"v":0.05},{"i":186,"v":0.1},{"i":187,"v":0.0},{"i":188,"v":-0.3},{"i":189,"v":-0.5},
{"i":190,"v":-0.1},{"i":191,"v":0.0},{"i":192,"v":0.1},{"i":193,"v":0.2},{"i":194,"v":0.5},{"i":195,"v":1.0},{"i":196,"v":1.5},{"i":197,"v":0.8},{"i":198,"v":0.7},{"i":199,"v":-0.1},
{"i":200,"v":-0.9},{"i":201,"v":-1.9},{"i":202,"v":-1.8},{"i":203,"v":-0.9},{"i":204,"v":0.0},{"i":205,"v":0.3},{"i":206,"v":0.6},{"i":207,"v":0.8},{"i":208,"v":0.0},{"i":209,"v":0.8},
{"i":210,"v":1.4},{"i":211,"v":1.0},{"i":212,"v":0.0},{"i":213,"v":0.1},{"i":214,"v":0.8},{"i":215,"v":1.6},{"i":216,"v":2.6},{"i":217,"v":3.1},{"i":218,"v":3.6},{"i":219,"v":3.65},
{"i":220,"v":3.7},{"i":221,"v":3.6},{"i":222,"v":2.6},{"i":223,"v":1.7},{"i":224,"v":1.4},{"i":225,"v":1.2},{"i":226,"v":1.7},{"i":227,"v":4.0},{"i":228,"v":5.7},{"i":229,"v":6.6},
{"i":230,"v":6.5},{"i":231,"v":6.4},{"i":232,"v":5.0},{"i":233,"v":2.2},{"i":234,"v":0.5},{"i":235,"v":-0.3},{"i":236,"v":-1.5},{"i":237,"v":-2.4},{"i":238,"v":-2.63}
]
},
"vconcat": [
{
"width": 1204, "height": 358,
"title": {"text": "▼ XAUUSD,H4  1914.55 1915.08 1912.77 1914.29", "anchor": "start", "offset": -11, "dx": 3, "color": "#FFFFFF", "fontSize": 9.5, "fontWeight": "normal", "font": "Liberation Sans"},
"layer": [
{"data": {"name": "candles"}, "mark": {"type": "rule", "strokeWidth": 1},
 "encoding": {
  "x": {"field": "i", "type": "quantitative", "scale": {"domain": [-0.375, 300.625], "nice": false, "zero": false}, "axis": {"orient": "bottom", "labels": false, "ticks": false, "domain": true, "title": null, "grid": false}},
  "y": {"field": "l", "type": "quantitative", "scale": {"domain": [1882.24, 1992.73], "nice": false, "zero": false}, "axis": {"orient": "right", "values": [1883.1, 1893.3, 1903.5, 1933.8, 1954.2, 1964.4, 1974.6, 1984.8], "format": ".2f", "tickSize": 3, "labelPadding": 2, "labelOffset": 1, "title": null, "grid": false, "labelOverlap": false, "labelFlush": false}},
  "y2": {"field": "h"},
  "color": {"condition": {"test": "datum.c >= datum.o", "value": "#32CD32"}, "value": "#FF0000"}
 }},
{"data": {"name": "candles"}, "mark": {"type": "bar", "orient": "vertical", "width": 2, "strokeWidth": 1},
 "encoding": {
  "x": {"field": "i", "type": "quantitative", "scale": {"domain": [-0.375, 300.625], "nice": false, "zero": false}},
  "y": {"field": "o", "type": "quantitative", "scale": {"domain": [1882.24, 1992.73], "nice": false, "zero": false}},
  "y2": {"field": "c"},
  "fill": {"condition": {"test": "datum.c >= datum.o", "value": "#32CD32"}, "value": "#FF0000"},
  "stroke": {"condition": {"test": "datum.c >= datum.o", "value": "#32CD32"}, "value": "#FF0000"}
 }},
{"data": {"name": "jaw"}, "mark": {"type": "line", "color": "#0000FF", "strokeWidth": 1},
 "encoding": {
  "x": {"field": "i", "type": "quantitative", "scale": {"domain": [-0.375, 300.625], "nice": false, "zero": false}},
  "y": {"field": "v", "type": "quantitative", "scale": {"domain": [1882.24, 1992.73], "nice": false, "zero": false}}
 }},
{"data": {"name": "teeth"}, "mark": {"type": "line", "color": "#FF0000", "strokeWidth": 1},
 "encoding": {
  "x": {"field": "i", "type": "quantitative", "scale": {"domain": [-0.375, 300.625], "nice": false, "zero": false}},
  "y": {"field": "v", "type": "quantitative", "scale": {"domain": [1882.24, 1992.73], "nice": false, "zero": false}}
 }},
{"data": {"name": "lips"}, "mark": {"type": "line", "color": "#00FF00", "strokeWidth": 1},
 "encoding": {
  "x": {"field": "i", "type": "quantitative", "scale": {"domain": [-0.375, 300.625], "nice": false, "zero": false}},
  "y": {"field": "v", "type": "quantitative", "scale": {"domain": [1882.24, 1992.73], "nice": false, "zero": false}}
 }},
{"data": {"name": "levels"}, "mark": {"type": "rule", "strokeWidth": 1},
 "encoding": {
  "y": {"field": "p", "type": "quantitative", "scale": {"domain": [1882.24, 1992.73], "nice": false, "zero": false}},
  "color": {"condition": {"test": "datum.k == 'bid'", "value": "#C0C0C0"}, "value": "#FF0000"}
 }},
{"data": {"name": "levels"}, "mark": {"type": "tick", "orient": "horizontal", "thickness": 11, "size": 41, "opacity": 1},
 "encoding": {
  "x": {"datum": 306.5, "type": "quantitative", "scale": {"domain": [-0.375, 300.625], "nice": false, "zero": false}},
  "y": {"field": "p", "type": "quantitative", "scale": {"domain": [1882.24, 1992.73], "nice": false, "zero": false}},
  "color": {"condition": {"test": "datum.k == 'bid'", "value": "#FFFFE0"}, "value": "#FF0000"}
 }},
{"data": {"name": "levels"}, "mark": {"type": "text", "align": "left", "baseline": "middle", "fontSize": 10, "font": "Liberation Sans", "color": "#000000"},
 "encoding": {
  "x": {"datum": 301.75, "type": "quantitative", "scale": {"domain": [-0.375, 300.625], "nice": false, "zero": false}},
  "y": {"field": "p", "type": "quantitative", "scale": {"domain": [1882.24, 1992.73], "nice": false, "zero": false}},
  "text": {"field": "p", "type": "quantitative", "format": ".2f"}
 }},
{"data": {"values": [{"marker": "shift"}]}, "mark": {"type": "point", "shape": "triangle-down", "filled": true, "size": 30, "color": "#C8C8C8", "opacity": 1},
 "encoding": {
  "x": {"datum": 240.25, "type": "quantitative", "scale": {"domain": [-0.375, 300.625], "nice": false, "zero": false}},
  "y": {"datum": 1991.8, "type": "quantitative", "scale": {"domain": [1882.24, 1992.73], "nice": false, "zero": false}}
 }}
]
},
{
"width": 1204, "height": 59,
"title": {"text": "AO 14.473", "anchor": "start", "offset": -12, "dx": 4, "color": "#FFFFFF", "fontSize": 9.5, "fontWeight": "normal", "font": "Liberation Sans"},
"data": {"name": "ao"},
"transform": [{"window": [{"op": "lag", "field": "v", "as": "pv"}], "sort": [{"field": "i", "order": "ascending"}]}],
"layer": [
{"mark": {"type": "rule", "strokeWidth": 2, "xOffset": 0.5},
 "encoding": {
  "x": {"field": "i", "type": "quantitative", "scale": {"domain": [-0.375, 300.625], "nice": false, "zero": false}, "axis": {"orient": "bottom", "labels": false, "ticks": false, "domain": true, "title": null}},
  "y": {"field": "v", "type": "quantitative", "scale": {"domain": [-22.9, 34.7], "nice": false, "zero": false}, "axis": {"orient": "right", "values": [-20.568, 0, 30.785], "labelExpr": "datum.value == 0 ? '0.00' : format(datum.value, '.3f')", "labelFlush": 8, "tickSize": 3, "labelPadding": 2, "title": null, "labelOverlap": false}},
  "y2": {"datum": 0},
  "color": {"condition": {"test": "datum.pv == null || datum.v > datum.pv", "value": "#32CD32"}, "value": "#FF0000"}
 }},
{"mark": {"type": "rule", "opacity": 0},
 "encoding": {
  "x": {"field": "i", "type": "quantitative", "scale": {"domain": [-0.375, 300.625], "nice": false, "zero": false}, "axis": {"orient": "top", "labels": false, "ticks": false, "domain": true, "title": null}}
 }}
],
"resolve": {"axis": {"x": "independent"}}
},
{
"width": 1204, "height": 56,
"title": {"text": "AC -2.6300", "anchor": "start", "offset": -12, "dx": 4, "color": "#FFFFFF", "fontSize": 9.5, "fontWeight": "normal", "font": "Liberation Sans"},
"data": {"name": "ac"},
"transform": [{"window": [{"op": "lag", "field": "v", "as": "pv"}], "sort": [{"field": "i", "order": "ascending"}]}],
"layer": [
{"mark": {"type": "rule", "strokeWidth": 2, "xOffset": 0.5},
 "encoding": {
  "x": {"field": "i", "type": "quantitative", "scale": {"domain": [-0.375, 300.625], "nice": false, "zero": false}, "axis": {"orient": "bottom", "values": [0, 16, 32, 48, 64, 80, 96, 112, 128, 144, 160, 176, 192, 208, 224], "labelExpr": "['30 Jun 2023','5 Jul 09:00','10 Jul 01:00','12 Jul 17:00','17 Jul 09:00','20 Jul 01:00','24 Jul 17:00','27 Jul 09:00','1 Aug 01:00','3 Aug 17:00','8 Aug 09:00','11 Aug 01:00','15 Aug 17:00','18 Aug 09:00','23 Aug 01:00'][round(datum.value / 16)]", "labelAlign": "left", "labelOffset": -2, "labelFlush": false, "labelOverlap": false, "labelBound": false, "tickSize": 4, "labelPadding": 1, "title": null}},
  "y": {"field": "v", "type": "quantitative", "scale": {"domain": [-11.05, 8.47], "nice": false, "zero": false}, "axis": {"orient": "right", "values": [-9.9201, 0, 7.2121], "labelExpr": "datum.value == 0 ? '0.00' : format(datum.value, '.4f')", "labelFlush": 8, "tickSize": 3, "labelPadding": 2, "title": null, "labelOverlap": false}},
  "y2": {"datum": 0},
  "color": {"condition": {"test": "datum.pv == null || datum.v > datum.pv", "value": "#32CD32"}, "value": "#FF0000"}
 }},
{"mark": {"type": "rule", "opacity": 0},
 "encoding": {
  "x": {"field": "i", "type": "quantitative", "scale": {"domain": [-0.375, 300.625], "nice": false, "zero": false}, "axis": {"orient": "top", "labels": false, "ticks": false, "domain": true, "title": null}}
 }}
],
"resolve": {"axis": {"x": "independent"}}
}
]
}
